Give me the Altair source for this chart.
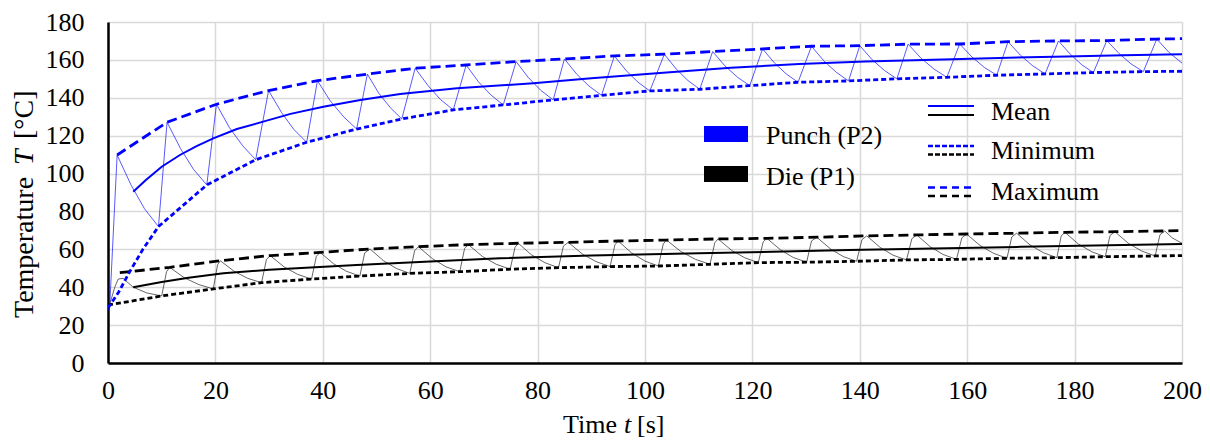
import altair as alt
import pandas as pd

FONT = "Liberation Serif"

# ---------------- data ----------------
x_ticks = [0, 20, 40, 60, 80, 100, 120, 140, 160, 180, 200]
y_ticks = [0, 20, 40, 60, 80, 100, 120, 140, 160, 180]

# Punch (P2) - instantaneous temperature (thin sawtooth)
punch_saw_t = [0, 0.3, 1.7,
               4.3, 6.8, 9.4, 11.0,
               13.5, 15.9, 18.4, 20.2,
               22.6, 25.1, 27.5, 29.9,
               32.3, 34.6, 37.0, 39.0,
               41.4, 43.9, 46.3, 48.3,
               50.4, 52.6, 54.7, 57.2,
               59.6, 61.9, 64.3, 66.7,
               69.0, 71.3, 73.6, 76.0,
               78.3, 80.6, 82.9, 85.0,
               87.3, 89.6, 91.9, 94.3,
               96.5, 98.7, 100.9, 103.6,
               105.8, 108.0, 110.2, 112.6,
               114.9, 117.2, 119.5, 121.9,
               124.1, 126.3, 128.5, 131.0,
               133.3, 135.6, 137.9, 140.0,
               142.3, 144.6, 146.9, 149.0,
               151.4, 153.8, 156.2, 158.6,
               160.9, 163.2, 165.5, 167.6,
               169.9, 172.2, 174.5, 177.0,
               179.2, 181.3, 183.5, 186.0,
               188.3, 190.5, 192.8, 195.3,
               197.6, 200]
punch_saw_T = [27.5, 29.0, 109.8,
               93.9, 81.4, 72.0, 127.1,
               113.2, 102.3, 94.0, 136.6,
               124.3, 114.6, 107.3, 143.8,
               132.3, 123.3, 116.5, 149.0,
               138.3, 129.9, 123.5, 152.5,
               142.5, 134.7, 128.8, 155.6,
               146.4, 139.1, 133.6, 157.3,
               148.4, 141.5, 136.2, 159.1,
               150.6, 143.9, 138.9, 160.5,
               152.4, 146.1, 141.3, 162.1,
               154.3, 148.2, 143.6, 163.0,
               155.2, 149.1, 144.5, 164.4,
               156.8, 150.9, 146.4, 165.8,
               158.4, 152.6, 148.2, 167.2,
               159.5, 153.5, 148.9, 167.5,
               160.1, 154.4, 150.0, 168.3,
               160.9, 155.2, 150.8, 168.4,
               161.5, 156.0, 151.9, 169.6,
               162.5, 156.9, 152.6, 170.0,
               163.0, 157.5, 153.3, 170.2,
               163.3, 157.9, 153.8, 171.0,
               163.9, 158.3]

punch_max_t = [1.7, 11.0, 20.2, 29.9, 39.0, 48.3, 57.2, 66.7, 76.0, 85.0, 94.3, 103.6,
               112.6, 121.9, 131.0, 140.0, 149.0, 158.6, 167.6, 177.0, 186.0, 195.3, 200]
punch_max_T = [109.8, 127.1, 136.6, 143.8, 149.0, 152.5, 155.6, 157.3, 159.1, 160.5, 162.1, 163.0,
               164.4, 165.8, 167.2, 167.5, 168.3, 168.4, 169.6, 170.0, 170.2, 171.0, 171.2]

punch_min_t = [0, 2, 4, 6.5, 9.4, 18.4, 27.5, 37.0, 46.3, 54.7, 64.3, 73.6, 82.9,
               91.9, 100.9, 110.2, 119.5, 128.5, 137.9, 146.9, 156.2, 165.5, 174.5, 183.5, 192.8, 200]
punch_min_T = [29.0, 37.5, 48.0, 60.0, 72.0, 94.0, 107.3, 116.5, 123.5, 128.8, 133.6, 136.2, 138.9,
               141.3, 143.6, 144.5, 146.4, 148.2, 148.9, 150.0, 150.8, 151.9, 152.6, 153.3, 153.8, 154.0]

punch_mean_t = [4.7, 7, 10, 13.4, 16.5, 19.6, 24, 28.9, 34, 40.1, 47, 54.4, 65, 79.2,
                90, 104, 116, 128.7, 141, 153.7, 166, 178.5, 189, 200]
punch_mean_T = [90.4, 96.5, 103.6, 109.8, 114.5, 118.6, 123.5, 127.4, 131.5, 135.3, 138.8, 142.0, 145.0, 147.7,
                150.3, 153.3, 155.8, 157.8, 159.1, 160.1, 161.0, 161.8, 162.4, 163.0]

# Die (P1) - instantaneous temperature (thin sawtooth)
die_saw_t = [0, 1.3, 1.9, 2.8, 4.7, 7.2, 10.0,
             10.9, 11.5, 14.2, 16.9, 19.6,
             20.4, 20.9, 23.5, 26.0, 28.6,
             29.5, 30.2, 32.8, 35.3, 37.9,
             38.8, 39.5, 42.0, 44.4, 46.9,
             47.8, 48.8, 51.3, 53.7, 56.2,
             57.1, 57.8, 60.4, 62.9, 65.5,
             66.4, 67.1, 69.7, 72.3, 74.9,
             75.8, 76.4, 78.9, 81.4, 83.9,
             84.8, 85.7, 88.3, 90.9, 93.5,
             94.4, 95.0, 97.5, 100.0, 102.5,
             103.4, 104.0, 106.7, 109.4, 112.1,
             113.0, 113.6, 116.1, 118.6, 121.1,
             122.0, 122.7, 125.2, 127.6, 130.1,
             131.0, 132.0, 134.5, 136.9, 139.4,
             140.4, 141.3, 143.8, 146.2, 148.7,
             149.7, 150.6, 153.1, 155.5, 158.0,
             159.0, 159.9, 162.4, 164.9, 167.4,
             168.3, 169.2, 171.7, 174.2, 176.7,
             177.5, 178.2, 180.7, 183.2, 185.7,
             186.6, 187.5, 190.0, 192.5, 195.0,
             195.9, 196.8, 198.2, 200]
die_saw_T = [28.0, 40.3, 44.3, 44.7, 40.0, 37.0, 35.4,
             48.2, 50.5, 45.0, 41.4, 39.1,
             51.8, 54.0, 48.4, 44.7, 42.4,
             54.6, 56.7, 50.7, 46.8, 44.3,
             56.3, 58.4, 52.4, 48.4, 45.9,
             58.1, 60.2, 54.0, 49.9, 47.3,
             59.3, 61.4, 55.1, 50.8, 48.2,
             60.4, 62.5, 56.3, 52.1, 49.5,
             61.1, 63.2, 57.0, 52.9, 50.3,
             61.7, 63.7, 57.6, 53.5, 50.9,
             62.4, 64.4, 58.1, 53.8, 51.2,
             62.8, 64.9, 58.8, 54.7, 52.1,
             63.5, 65.5, 59.5, 55.5, 53.0,
             63.9, 65.8, 59.8, 55.7, 53.2,
             64.4, 66.4, 60.3, 56.2, 53.7,
             65.1, 67.1, 61.0, 56.9, 54.4,
             65.6, 67.6, 61.4, 57.3, 54.7,
             66.1, 68.1, 62.0, 57.9, 55.3,
             66.5, 68.5, 62.3, 58.2, 55.6,
             67.0, 69.0, 62.8, 58.7, 56.1,
             67.3, 69.3, 63.2, 59.1, 56.5,
             67.7, 69.7, 66.0, 63.2]

die_max_t = [2.2, 11.5, 20.9, 30.2, 39.5, 48.8, 57.8, 67.1, 76.4, 85.7, 95.0, 104.0,
             113.6, 122.7, 132.0, 141.3, 150.6, 159.9, 169.2, 178.2, 187.5, 196.8, 200]
die_max_T = [47.7, 50.5, 54.0, 56.7, 58.4, 60.2, 61.4, 62.5, 63.2, 63.7, 64.4, 64.9,
             65.5, 65.8, 66.4, 67.1, 67.6, 68.1, 68.5, 69.0, 69.3, 69.7, 69.9]

die_min_t = [0, 10, 19.6, 28.6, 37.9, 46.9, 56.2, 65.5, 74.9, 83.9, 93.5, 102.5,
             112.1, 121.1, 130.1, 139.4, 148.7, 158.0, 167.4, 176.7, 185.7, 195.0, 200]
die_min_T = [30.6, 35.4, 39.1, 42.4, 44.3, 45.9, 47.3, 48.2, 49.5, 50.3, 50.9, 51.2,
             52.1, 53.0, 53.2, 53.7, 54.4, 54.7, 55.3, 55.6, 56.1, 56.5, 56.7]

die_mean_t = [4.7, 10, 15, 21.5, 30, 46.3, 60, 73, 90, 110, 138, 170, 200]
die_mean_T = [40.0, 42.8, 45.0, 47.4, 49.2, 51.7, 53.6, 55.3, 56.7, 57.9, 59.6, 61.3, 62.8]

BLUE = "#0000FF"
BLACK = "#000000"

# ---------------- scales / axes ----------------
x_enc = alt.X("t:Q",
              scale=alt.Scale(domain=[0, 200], nice=False, zero=False),
              axis=alt.Axis(values=x_ticks, title=None, ticks=False, grid=True,
                            gridColor="#d9d9d9", gridWidth=1.5,
                            domainColor="black", domainWidth=2.5,
                            labelFont=FONT, labelFontSize=26, labelColor="black",
                            labelPadding=14, labelFlush=False, labelOverlap=False))
y_enc = alt.Y("T:Q",
              scale=alt.Scale(domain=[0, 180], nice=False, zero=False),
              axis=alt.Axis(values=y_ticks, title=None, ticks=False, grid=True,
                            gridColor="#d9d9d9", gridWidth=1.5,
                            domainColor="black", domainWidth=2.5,
                            labelFont=FONT, labelFontSize=26, labelColor="black",
                            labelPadding=24, labelOverlap=False))


def series(t, T, color, width, dash=None, opacity=1.0):
    df = pd.DataFrame({"t": t, "T": T})
    kw = dict(color=color, strokeWidth=width, opacity=opacity, clip=True)
    if dash is not None:
        kw["strokeDash"] = dash
    return alt.Chart(df).mark_line(**kw).encode(x=x_enc, y=y_enc, order=alt.Order("t:Q"))


MAX_DASH = [10, 5]
MIN_DASH = [5, 3]

layers = [
    series(die_saw_t, die_saw_T, BLACK, 1, opacity=0.6),
    series(punch_saw_t, punch_saw_T, BLUE, 1, opacity=0.65),
    series(die_min_t, die_min_T, BLACK, 2.8, MIN_DASH),
    series(die_max_t, die_max_T, BLACK, 2.8, MAX_DASH),
    series(die_mean_t, die_mean_T, BLACK, 2),
    series(punch_min_t, punch_min_T, BLUE, 2.8, MIN_DASH),
    series(punch_max_t, punch_max_T, BLUE, 2.8, MAX_DASH),
    series(punch_mean_t, punch_mean_T, BLUE, 2),
]

one = pd.DataFrame({"k": [0]})


def text(s, x, y, size=26, italic=False, angle=0):
    kw = dict(font=FONT, fontSize=size, align="left", baseline="middle", color="black")
    if italic:
        kw["fontStyle"] = "italic"
    if angle:
        kw["angle"] = angle
    return alt.Chart(one).mark_text(**kw).encode(
        x=alt.value(x), y=alt.value(y), text=alt.value(s))


def swatch(color, x1, x2, y1, y2):
    return alt.Chart(one).mark_rect(color=color).encode(
        x=alt.value(x1), x2=alt.value(x2), y=alt.value(y1), y2=alt.value(y2))


def legline(color, y, dash=None, width=2.5):
    kw = dict(color=color, strokeWidth=width)
    if dash is not None:
        kw["strokeDash"] = dash
    return alt.Chart(one).mark_rule(**kw).encode(
        x=alt.value(820), x2=alt.value(866), y=alt.value(y))


legend = [
    swatch(BLUE, 596, 640, 104, 120),
    swatch(BLACK, 596, 640, 144, 160),
    text("Punch (P2)", 658, 114),
    text("Die (P1)", 658, 155),
    legline(BLUE, 84, width=2.2),
    legline(BLACK, 93, width=2.2),
    text("Mean", 883, 90),
    legline(BLUE, 124, [5, 2]),
    legline(BLACK, 132.5, [5, 2]),
    text("Minimum", 883, 129),
    legline(BLUE, 165.5, [7, 5]),
    legline(BLACK, 174, [7, 5]),
    text("Maximum", 883, 170),
    # axis titles (with italic symbols)
    text("Time", 455, 403),
    text("t", 516, 403, italic=True),
    text("[s]", 529, 403),
    text("Temperature", -83, 296, size=28, angle=270),
    text("T", -83, 143, size=28, italic=True, angle=270),
    text("[°C]", -83, 117, size=28, angle=270),
]

chart = alt.layer(*layers, *legend).properties(
    width=1074,
    height=341,
    autosize=alt.AutoSizeParams(type="none"),
    padding={"left": 100, "top": 14, "right": 20, "bottom": 76},
).configure_view(
    stroke="black", strokeWidth=1.5
).configure_axis(
    labelFont=FONT, labelFontSize=26, labelColor="black"
).configure_text(font=FONT).configure(background="white", font=FONT)

chart.save("out.html", embed_options={"renderer": "svg", "actions": False})
